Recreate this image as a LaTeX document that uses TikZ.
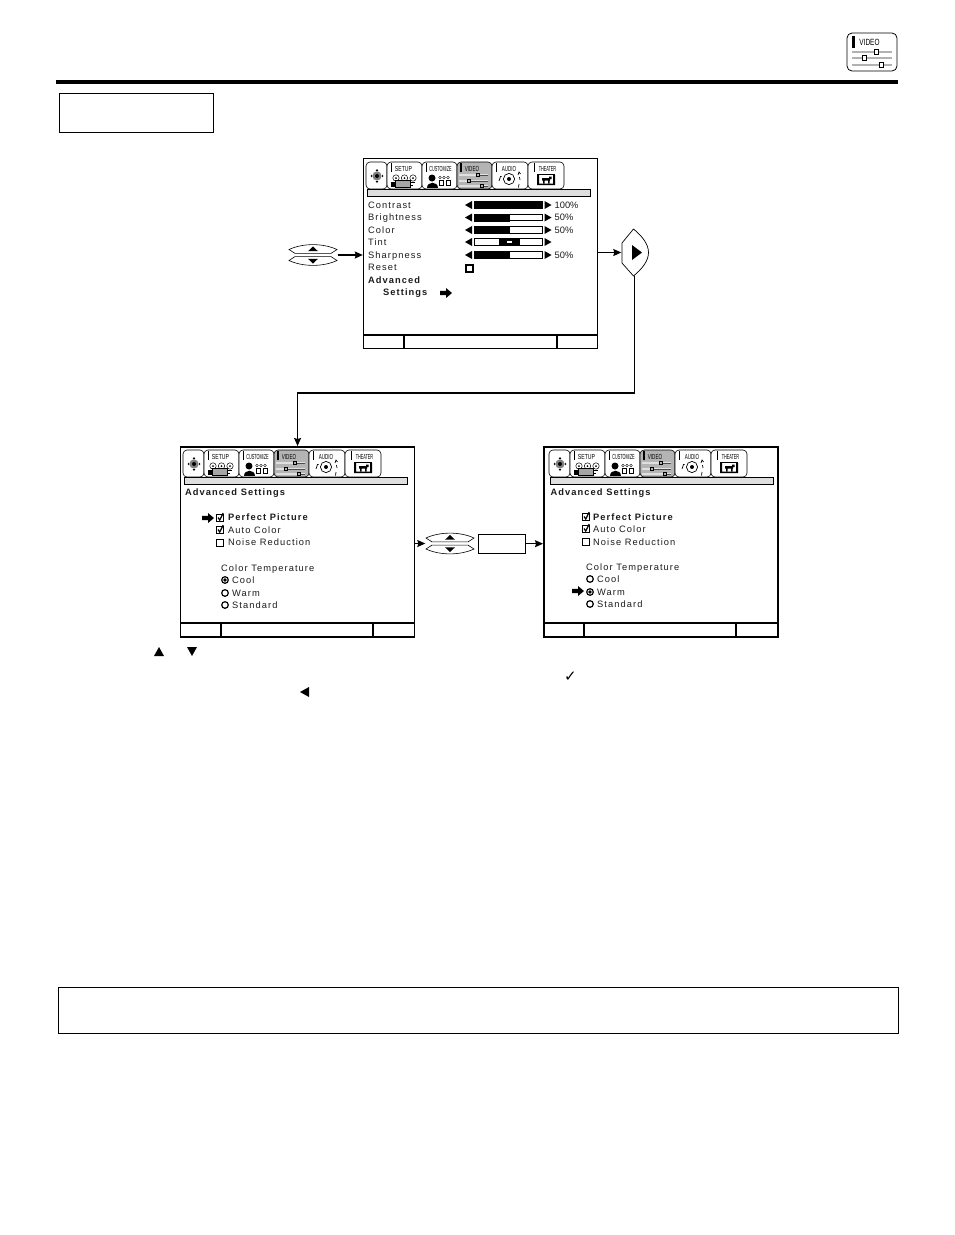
\documentclass[tikz,border=0pt]{standalone}
\usepackage{fontspec}
\usepackage{graphicx}
\setmainfont{Liberation Sans}
\newfontfamily\menufont[LetterSpace=11.5]{Liberation Sans}
\newfontfamily\plainfont{Liberation Sans}
\newfontfamily\symfont{DejaVu Sans}
\usetikzlibrary{arrows.meta}
\definecolor{tabgrey}{HTML}{B4B4B4}
\definecolor{bargrey}{HTML}{DEDEDE}
\definecolor{inktext}{HTML}{1C1C1C}
\tikzset{
  x=1pt,y=-1pt,
  flow/.style={line width=1.05pt,-{Stealth[length=8pt,width=7pt,inset=1pt]}},
  screenbox/.style={draw,line width=1.5pt,anchor=north west,inner sep=0pt,minimum width=234pt,minimum height=190pt},
  divider/.style={line width=1.4pt},
  padspot/.style={inner sep=0pt},
  menutext/.style={anchor=base west,inner sep=0pt,yshift=-3.3pt,text=inktext,font=\menufont\fontsize{9.3}{11}\selectfont},
  menubold/.style={menutext,font=\menufont\bfseries\fontsize{9.3}{11}\selectfont},
  valuetext/.style={anchor=base west,inner sep=0pt,yshift=-3.3pt,text=inktext,font=\plainfont\fontsize{9.3}{11}\selectfont},
  tabtext/.style={anchor=center,inner sep=0pt,font=\plainfont\fontsize{7.3}{8}\selectfont},
  tabshape/.style={draw,line width=.6pt,rounded corners=4pt,fill=white},
  tri/.style={fill=black,draw=none},
  checkbox/.style={draw,line width=1.2pt,fill=white},
}
% fat pointing arrow
\newcommand{\fatarrow}[2]{\fill (#1,#2-2.2) -- ++(6,0) -- ++(0,-2.8) -- ++(6,5) -- ++(-6,5) -- ++(0,-2.8) -- ++(-6,0) -- cycle;}
% up/down pad
\newcommand{\updownpad}[3]{%
  \node[padspot,minimum width=49pt,minimum height=22pt] (#1) at (#2,#3) {};
  \draw[line width=.6pt] (#2-24,#3-5.5) .. controls (#2-10,#3-12) and (#2+10,#3-12) .. (#2+24,#3-5.5) -- (#2+18,#3-1.6) -- (#2-18,#3-1.6) -- cycle;
  \draw[line width=.6pt] (#2-24,#3+5.5) .. controls (#2-10,#3+12) and (#2+10,#3+12) .. (#2+24,#3+5.5) -- (#2+18,#3+1.6) -- (#2-18,#3+1.6) -- cycle;
  \fill[tri] (#2-5,#3-3.8) -- (#2+5,#3-3.8) -- (#2,#3-8.5) -- cycle;
  \fill[tri] (#2-5,#3+3.8) -- (#2+5,#3+3.8) -- (#2,#3+8.5) -- cycle;
}
% tab strip, relative to the current shift
\newcommand{\tabstrip}[1]{%
  \draw[tabshape] (3,4) rectangle (24,31);
  \draw[tabshape] (24,4) rectangle (59,31);
  \draw[tabshape] (59,4) rectangle (94,31);
  \draw[tabshape,fill=tabgrey] (94,4) rectangle (129,31);
  \draw[tabshape] (129,4) rectangle (165,31);
  \draw[tabshape] (165,4) rectangle (201,31);
  \draw[line width=.6pt,fill=bargrey] (4,31) rectangle (227,38);
  % joystick
  \fill[black!50] (14,18) circle (4.6);
  \fill (14,18) circle (2);
  \fill[tri] (14,11) -- (12.6,13) -- (15.4,13) -- cycle;
  \fill[tri] (14,25) -- (12.6,23) -- (15.4,23) -- cycle;
  \fill[tri] (7.5,18) -- (9,16.6) -- (9,19.4) -- cycle;
  \fill[tri] (20.5,18) -- (19,16.6) -- (19,19.4) -- cycle;
  % setup
  \fill (27.5,4.5) rectangle (29,14);
  \node[tabtext] (#1-setup) at (40.5,11) {\scalebox{.7}[1]{SETUP}};
  \foreach \cx in {33,41.5,50} {\draw[line width=.5pt] (\cx,20) circle (3.2); \fill (\cx,20) circle (1);}
  \draw[line width=.8pt,fill=black!35] (32,22.5) rectangle (47,29);
  \fill (28,24) rectangle (32,29);
  \draw[line width=.9pt] (47,24.5) -- (52,24.5) (47,27.5) -- (50,27.5);
  % customize
  \fill (62.5,4.5) rectangle (64,14);
  \node[tabtext] (#1-customize) at (77.5,11) {\scalebox{.52}[1]{CUSTOMIZE}};
  \fill (69,20) circle (3.5);
  \fill (63.5,29.5) .. controls (63.5,22.5) and (74.5,22.5) .. (74.5,29.5) -- cycle;
  \foreach \cx in {77,81,85} {\draw[line width=.35pt] (\cx,19.5) circle (1.3);}
  \draw[line width=1pt] (76.5,22.5) rectangle (80.5,27.5) (83.5,22.5) rectangle (87.5,27.5);
  % video
  \fill (97,4.5) rectangle (98.5,14);
  \node[tabtext] (#1-video) at (109,11) {\scalebox{.62}[1]{VIDEO}};
  \foreach \ly/\tx in {17/115,23/106,28/119} {
    \draw[black!12,line width=1.6pt] (96,\ly) -- (125,\ly);
    \draw[black!70,line width=1pt] (\tx,\ly) -- (125,\ly);
    \draw[line width=1pt,fill=tabgrey] (\tx-1.8,\ly-1.8) rectangle (\tx+1.8,\ly+1.8);
  }
  % audio
  \fill (132.5,4.5) rectangle (134,14);
  \node[tabtext] (#1-audio) at (146,11) {\scalebox{.62}[1]{AUDIO}};
  \draw[line width=.7pt] (146,21) circle (5.6);
  \fill (146,21) circle (2);
  \draw[line width=.7pt] (136,23) -- (137.5,18.5) -- (138.5,18.5) (155,17) -- (156,14) -- (157.5,16) (156,26) -- (155.5,29.5) (156.5,19) -- (157,22);
  % theater
  \fill (170.5,4.5) rectangle (172,14);
  \node[tabtext] (#1-theater) at (184.5,11) {\scalebox{.52}[1]{THEATER}};
  \draw[line width=.5pt] (174,16.5) -- (192,16.5);
  \fill (174,17) rectangle (176,27) (190,17) rectangle (192,27) (174,25.5) rectangle (192,27);
  \fill (179,20) rectangle (187,22.5) (180,22) rectangle (181.5,25.5) (185,22) rectangle (186.5,25.5) (186,18.5) rectangle (188.5,21);
}
\newcommand{\panelbottom}[3]{%
  \draw[divider] (#1,#2+177) -- (#1+234,#2+177);
  \draw[divider] (#1+41,#2+177) -- (#1+41,#2+190);
  \draw[divider] (#1+#3,#2+177) -- (#1+#3,#2+190);
}
\newcommand{\slidertri}[3]{%
  \fill[tri] (#1,#2-4) -- (#1,#2+4) -- (#1-7,#2) -- cycle;
  \fill[tri] (#3,#2-4) -- (#3,#2+4) -- (#3+7,#2) -- cycle;
}
\newcommand{\slider}[2]{% y, fill end x
  \slidertri{472}{#1}{544.5}
  \draw[line width=.8pt] (474,#1-3.3) rectangle (542.5,#1+3.3);
  \fill (474,#1-4) rectangle (#2,#1+4);
}
% check box and radios
\newcommand{\cbox}[3]{%
  \draw[checkbox] (#2-3.7,#3-3.4) rectangle (#2+3.7,#3+3.4);
  \ifnum#1=1 \draw[line width=1.2pt] (#2-2,#3-.5) -- (#2-.3,#3+2) -- (#2+3.2,#3-5); \fi
}
\newcommand{\radio}[3]{%
  \draw[line width=1.2pt,fill=white] (#2,#3) circle (3.3);
  \ifnum#1=1 \fill (#2,#3) circle (1.9); \fi
}
\pagestyle{empty}
\begin{document}
\begin{tikzpicture}
\useasboundingbox (0,0) rectangle (954,1235);
\fill[white] (0,0) rectangle (954,1235);
% header
\fill (56,80) rectangle (898,84);
\draw[line width=.8pt,rounded corners=5pt] (847,33) rectangle (897,71);
\fill (852,36) rectangle (854.5,48);
\node[tabtext] (hdrvideo) at (869.5,42) {\fontsize{9}{10}\selectfont\scalebox{.72}[1]{VIDEO}};
\foreach \ly/\tx in {52/876,58/864,65/881} {
  \draw[black!30,line width=1.6pt] (852,\ly) -- (892,\ly);
  \draw[line width=.9pt,fill=white] (\tx-2,\ly-2.5) rectangle (\tx+2,\ly+2.5);
}
\node[draw,line width=.9pt,anchor=north west,inner sep=0pt,minimum width=154pt,minimum height=38.5pt] (titlebox) at (59,93.2) {};
\node[draw,line width=.9pt,anchor=north west,inner sep=0pt,minimum width=840pt,minimum height=46pt] (notebox) at (58,987) {};

% top screen
\node[screenbox] (top) at (362.8,157.8) {};
\begin{scope}[shift={(363,158)}]\tabstrip{t}\end{scope}
\panelbottom{362.8}{157.8}{194}
\node[menutext] (t1) at (368,205) {Contrast};
\node[menutext] (t2) at (368,217) {Brightness};
\node[menutext] (t3) at (368,230) {Color};
\node[menutext] (t4) at (368,242) {Tint};
\node[menutext] (t5) at (368,255) {Sharpness};
\node[menutext] (t6) at (368,267) {Reset};
\node[menubold] (t7) at (368,280) {Advanced};
\node[menubold] (t8) at (383,292) {Settings};
\fatarrow{440}{293}
\slider{205}{542.5}
\slider{217.5}{510}
\slider{230}{510}
\slidertri{472}{242}{544.5}
\draw[line width=.8pt] (474,238.7) rectangle (542.5,245.3);
\fill (499,238) rectangle (520,246);
\fill[white] (507,241.3) rectangle (512,243);
\slider{255}{510}
\node[valuetext] (v1) at (554.5,205) {100\%};
\node[valuetext] (v2) at (554.5,217.5) {50\%};
\node[valuetext] (v3) at (554.5,230) {50\%};
\node[valuetext] (v5) at (554.5,255) {50\%};
\draw[line width=1.5pt] (466,265) rectangle (473,272);

% pads
\updownpad{padone}{313}{255}
\updownpad{padtwo}{450}{543.5}
\node[draw,line width=.9pt,anchor=north west,inner sep=0pt,minimum width=47pt,minimum height=18.5pt] (enterbox) at (478,534) {};
\node[padspot,minimum width=26pt,minimum height=47pt] (rp) at (634.5,252.5) {};
\draw[line width=.7pt] (622,243) -- (633.5,229) .. controls (642,236) and (648.5,244) .. (648.5,252.5) .. controls (648.5,261) and (642,269) .. (633.5,276) -- (622,263) -- cycle;
\fill[tri] (632,245) -- (642,252.5) -- (632,260) -- cycle;

% lower screens
\node[screenbox] (advl) at (179.8,446) {};
\node[screenbox] (advr) at (543,446) {};
\begin{scope}[shift={(180,446)}]\tabstrip{l}\end{scope}
\begin{scope}[shift={(546,446)}]\tabstrip{r}\end{scope}
\panelbottom{179.8}{446}{193}
\panelbottom{543}{446}{193}

\node[menubold] (l1) at (185,492) {Advanced Settings};
\node[menubold] (l2) at (228,517) {Perfect Picture};
\node[menutext] (l3) at (228,530) {Auto Color};
\node[menutext] (l4) at (228,542) {Noise Reduction};
\node[menutext] (l5) at (221,568) {Color Temperature};
\node[menutext] (l6) at (232,580) {Cool};
\node[menutext] (l7) at (232,593) {Warm};
\node[menutext] (l8) at (232,605) {Standard};
\fatarrow{202}{518}
\cbox{1}{220}{518}\cbox{1}{220}{530}\cbox{0}{220}{543}
\radio{1}{225}{580}\radio{0}{225}{593}\radio{0}{225}{605}

\node[menubold] (r1) at (550.5,492) {Advanced Settings};
\node[menubold] (r2) at (593,517) {Perfect Picture};
\node[menutext] (r3) at (593,529) {Auto Color};
\node[menutext] (r4) at (593,542) {Noise Reduction};
\node[menutext] (r5) at (586,567) {Color Temperature};
\node[menutext] (r6) at (597,579) {Cool};
\node[menutext] (r7) at (597,592) {Warm};
\node[menutext] (r8) at (597,604) {Standard};
\fatarrow{572}{591}
\cbox{1}{586}{517}\cbox{1}{586}{529}\cbox{0}{586}{542}
\radio{0}{590}{579}\radio{1}{590}{592}\radio{0}{590}{604}

% connectors
\coordinate (rail) at (0,393);
\draw[flow] (padone.east) -- (top.west |- padone.east);
\draw[flow] (top.east |- rp.west) -- (rp.west);
\draw[flow] (rp.south) |- (rail -| advl.north) -- (advl.north);
\draw[flow] (advl.east |- padtwo.west) -- (padtwo.west);
\draw[flow] (enterbox.east) -- (advr.west |- enterbox.east);

% inline symbols
\fill[tri] (154,656) -- (164,656) -- (159,647) -- cycle;
\fill[tri] (187,647) -- (197,647) -- (192,656) -- cycle;
\fill[tri] (309,687) -- (309,697) -- (300,692) -- cycle;
\node[inner sep=0pt,font=\symfont\bfseries\fontsize{15}{15}\selectfont] (tick) at (570.5,676.5) {✓};
\end{tikzpicture}
\end{document}
